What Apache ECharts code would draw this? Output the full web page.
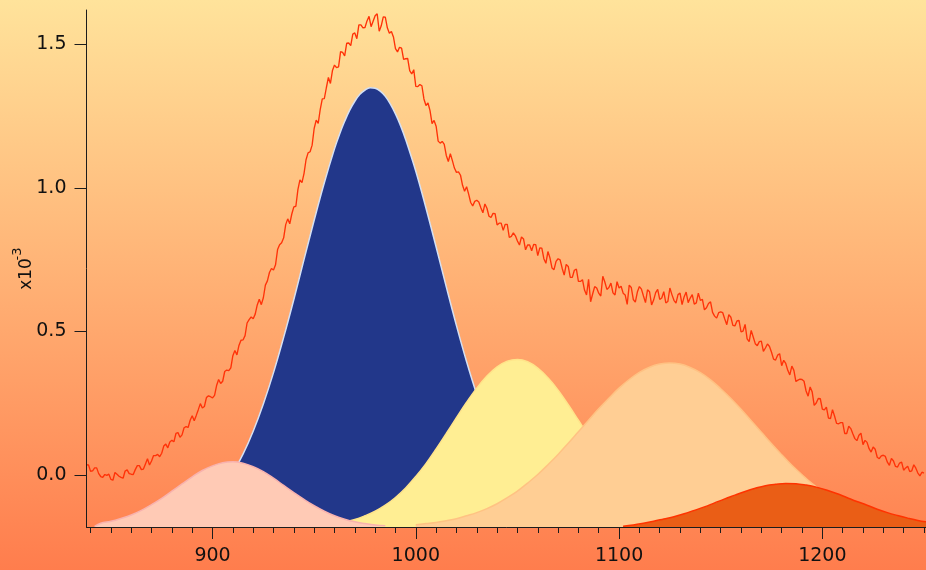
<!DOCTYPE html>
<html><head><meta charset="utf-8">
<script src="https://cdn.jsdelivr.net/npm/echarts@6/dist/echarts.min.js"></script>
<style>
html,body{margin:0;padding:0;width:926px;height:570px;overflow:hidden;}
#c{width:926px;height:570px;background:linear-gradient(to bottom,#FFE39B 0%,#FFB074 50%,#FF7D4D 100%);}
</style>
</head><body><div id="c"></div>
<script>
// ---- axis ticks ----
const xMajorTicks = [900, 1000, 1100, 1200];
const xMinorTicks = [840,850,860,870,880,890,910,920,930,940,950,960,970,980,990,1010,1020,1030,1040,1050,1060,1070,1080,1090,1110,1120,1130,1140,1150,1160,1170,1180,1190,1210,1220,1230,1240,1250];
const yTicks = [0.0, 0.5, 1.0, 1.5];

// ---- fitted component bands ----
const pinkX = [842,845,850,855,860,865,870,875,880,885,890,895,900,905,910,915,920,925,930,935,940,945,950,955,960,965,970,975,980,985];
const pinkY = [-0.180,-0.169,-0.162,-0.152,-0.140,-0.124,-0.104,-0.082,-0.057,-0.032,-0.007,0.015,0.031,0.042,0.045,0.040,0.028,0.011,-0.012,-0.037,-0.062,-0.086,-0.108,-0.127,-0.143,-0.155,-0.164,-0.170,-0.175,-0.178];

const blueX = [880,885,890,895,900,905,910,915,920,925,930,935,940,945,950,955,960,962.5,965,967.5,970,972.5,975,977.5,980,982.5,985,987.5,990,992.5,995,1000,1005,1010,1015,1020,1025,1030,1035,1040,1045,1050,1055,1060,1065,1070,1075];
const blueY = [-0.162,-0.151,-0.136,-0.114,-0.084,-0.044,0.007,0.072,0.152,0.247,0.356,0.479,0.611,0.750,0.887,1.018,1.136,1.187,1.232,1.271,1.302,1.326,1.341,1.349,1.347,1.337,1.319,1.292,1.258,1.217,1.169,1.058,0.930,0.794,0.655,0.520,0.394,0.280,0.180,0.096,0.026,-0.029,-0.072,-0.105,-0.129,-0.147,-0.159];

const yellowX = [955,960,965,970,975,980,985,990,995,1000,1005,1010,1015,1020,1025,1030,1035,1040,1045,1050,1055,1060,1065,1070,1075,1080,1085,1090,1095,1100,1105,1110,1115,1120,1125,1130,1135];
const yellowY = [-0.175,-0.170,-0.164,-0.156,-0.143,-0.127,-0.106,-0.079,-0.046,-0.006,0.039,0.090,0.144,0.199,0.253,0.302,0.344,0.376,0.396,0.402,0.394,0.372,0.338,0.295,0.244,0.190,0.135,0.081,0.031,-0.013,-0.051,-0.084,-0.110,-0.130,-0.146,-0.157,-0.165];

const peachX = [1000,1005,1010,1015,1020,1025,1030,1035,1040,1045,1050,1055,1060,1065,1070,1075,1080,1085,1090,1095,1100,1105,1110,1115,1120,1125,1130,1135,1140,1145,1150,1155,1160,1165,1170,1175,1180,1185,1190,1195,1200,1205,1210,1215,1220,1225,1230,1235,1240,1245,1250];
const peachY = [-0.174,-0.170,-0.166,-0.160,-0.153,-0.143,-0.132,-0.118,-0.101,-0.080,-0.057,-0.029,0.001,0.035,0.071,0.110,0.150,0.190,0.230,0.267,0.302,0.332,0.357,0.375,0.386,0.390,0.386,0.374,0.356,0.331,0.300,0.266,0.228,0.188,0.148,0.108,0.070,0.033,0.000,-0.031,-0.058,-0.081,-0.101,-0.118,-0.133,-0.144,-0.153,-0.160,-0.166,-0.170,-0.174];

const darkX = [1102,1107,1112,1117,1122,1127,1132,1137,1142,1147,1152,1157,1162,1167,1172,1177,1182,1187,1192,1197,1202,1207,1212,1217,1222,1227,1232,1237,1242,1247,1252];
const darkY = [-0.179,-0.175,-0.169,-0.162,-0.154,-0.146,-0.136,-0.124,-0.112,-0.098,-0.084,-0.071,-0.058,-0.047,-0.038,-0.033,-0.030,-0.031,-0.036,-0.043,-0.053,-0.065,-0.079,-0.093,-0.106,-0.120,-0.132,-0.142,-0.151,-0.159,-0.165];

// ---- measured spectrum (even wavenumbers) ----
const specX = [838,840,842,844,846,848,850,852,854,856,858,860,862,864,866,868,870,872,874,876,878,880,882,884,886,888,890,892,894,896,898,
900,902,904,906,908,910,912,914,916,918,920,922,924,926,928,930,932,934,936,938,940,942,944,946,948,950,952,954,956,958,960,962,964,966,968,970,972,974,976,978,980,982,984,986,988,990,992,994,996,998,
1000,1002,1004,1006,1008,1010,1012,1014,1016,1018,1020,1022,1024,1026,1028,1030,1032,1034,1036,1038,1040,1042,1044,1046,1048,1050,1052,1054,1056,1058,1060,1062,1064,1066,1068,1070,1072,1074,1076,1078,1080,1082,1084,1086,1088,1090,1092,1094,1096,1098,
1100,1102,1104,1106,1108,1110,1112,1114,1116,1118,1120,1122,1124,1126,1128,1130,1132,1134,1136,1138,1140,1142,1144,1146,1148,1150,1152,1154,1156,1158,1160,1162,1164,1166,1168,1170,1172,1174,1176,1178,1180,1182,1184,1186,1188,1190,1192,1194,1196,1198,
1200,1202,1204,1206,1208,1210,1212,1214,1216,1218,1220,1222,1224,1226,1228,1230,1232,1234,1236,1238,1240,1242,1244,1246,1248,1250];
const specY = [0.035,0.012,0.024,0.004,-0.009,-0.002,-0.016,0.008,-0.005,-0.012,0.017,0.002,0.018,0.032,0.020,0.056,0.048,0.067,0.063,0.100,0.094,0.120,0.144,0.131,0.164,0.165,0.206,0.207,0.248,0.238,0.275,
0.268,0.311,0.318,0.360,0.363,0.415,0.418,0.469,0.485,0.541,0.544,0.592,0.593,0.661,0.705,0.714,0.785,0.809,0.872,0.875,0.934,0.994,1.018,1.098,1.126,1.207,1.225,1.310,1.349,1.364,1.428,1.422,1.472,1.504,1.496,1.540,1.568,1.558,1.582,1.562,1.600,1.546,1.596,1.558,1.545,1.485,1.490,1.448,1.451,1.397,
1.354,1.360,1.310,1.296,1.224,1.215,1.156,1.152,1.092,1.095,1.054,1.044,0.988,0.978,0.937,0.957,0.931,0.944,0.901,0.911,0.871,0.877,0.873,0.827,0.843,0.815,0.829,0.784,0.801,0.803,0.764,0.790,0.737,0.756,0.715,0.753,0.720,0.733,0.688,0.713,0.674,0.680,0.627,0.603,0.656,0.633,0.692,0.646,0.668,0.627,
0.651,0.633,0.594,0.653,0.602,0.656,0.623,0.645,0.592,0.635,0.611,0.638,0.604,0.628,0.598,0.633,0.620,0.600,0.628,0.599,0.608,0.575,0.597,0.566,0.546,0.568,0.543,0.558,0.521,0.536,0.498,0.524,0.464,0.480,0.450,0.466,0.442,0.447,0.403,0.417,0.380,0.388,0.348,0.364,0.330,0.332,0.292,0.306,0.242,0.266,
0.229,0.236,0.196,0.205,0.178,0.182,0.144,0.161,0.126,0.138,0.105,0.113,0.079,0.089,0.056,0.068,0.044,0.057,0.029,0.041,0.016,0.030,0.014,0.023,-0.004,0.006];

// ---- measured spectrum (odd wavenumbers) ----
const specMidX = [839,841,843,845,847,849,851,853,855,857,859,861,863,865,867,869,871,873,875,877,879,881,883,885,887,889,891,893,895,897,899,
901,903,905,907,909,911,913,915,917,919,921,923,925,927,929,931,933,935,937,939,941,943,945,947,949,951,953,955,957,959,961,963,965,967,969,971,973,975,977,979,981,983,985,987,989,991,993,995,997,999,
1001,1003,1005,1007,1009,1011,1013,1015,1017,1019,1021,1023,1025,1027,1029,1031,1033,1035,1037,1039,1041,1043,1045,1047,1049,1051,1053,1055,1057,1059,1061,1063,1065,1067,1069,1071,1073,1075,1077,1079,1081,1083,1085,1087,1089,1091,1093,1095,1097,1099,
1101,1103,1105,1107,1109,1111,1113,1115,1117,1119,1121,1123,1125,1127,1129,1131,1133,1135,1137,1139,1141,1143,1145,1147,1149,1151,1153,1155,1157,1159,1161,1163,1165,1167,1169,1171,1173,1175,1177,1179,1181,1183,1185,1187,1189,1191,1193,1195,1197,1199,
1201,1203,1205,1207,1209,1211,1213,1215,1217,1219,1221,1223,1225,1227,1229,1231,1233,1235,1237,1239,1241,1243,1245,1247,1249];
const specMidY = [0.034,0.014,0.024,-0.006,0.001,0.002,-0.019,0.002,-0.009,0.013,0.004,0.001,0.032,0.018,0.038,0.034,0.067,0.071,0.075,0.107,0.114,0.115,0.147,0.139,0.168,0.190,0.188,0.227,0.233,0.269,0.272,
0.277,0.332,0.326,0.365,0.373,0.433,0.451,0.470,0.529,0.550,0.560,0.612,0.617,0.676,0.719,0.732,0.802,0.826,0.892,0.909,0.936,1.028,1.050,1.122,1.149,1.236,1.274,1.311,1.385,1.409,1.419,1.475,1.460,1.505,1.536,1.520,1.568,1.559,1.598,1.581,1.607,1.565,1.595,1.539,1.526,1.474,1.487,1.450,1.409,1.412,
1.353,1.356,1.287,1.269,1.235,1.163,1.162,1.113,1.119,1.069,1.056,1.009,1.004,0.949,0.953,0.951,0.913,0.929,0.897,0.910,0.877,0.852,0.873,0.831,0.833,0.801,0.822,0.801,0.781,0.802,0.791,0.753,0.778,0.721,0.744,0.749,0.696,0.726,0.688,0.717,0.674,0.644,0.681,0.630,0.651,0.623,0.672,0.653,0.634,0.673,
0.657,0.627,0.661,0.611,0.637,0.647,0.600,0.638,0.609,0.646,0.616,0.599,0.651,0.608,0.628,0.593,0.637,0.616,0.595,0.633,0.611,0.582,0.603,0.553,0.565,0.565,0.523,0.549,0.519,0.538,0.501,0.474,0.503,0.457,0.464,0.430,0.456,0.427,0.400,0.422,0.399,0.364,0.379,0.325,0.333,0.326,0.274,0.289,0.250,0.265,
0.226,0.198,0.227,0.179,0.182,0.144,0.169,0.143,0.119,0.145,0.120,0.091,0.097,0.061,0.066,0.064,0.033,0.048,0.027,0.044,0.024,0.011,0.035,0.006,0.009];

function pairs(xs, ys) {
  const n = Math.min(xs.length, ys.length);
  const out = [];
  for (let i = 0; i < n; i++) out.push([xs[i], ys[i]]);
  return out;
}
const spectrum = pairs(specX, specY).concat(pairs(specMidX, specMidY)).sort((a, b) => a[0] - b[0]);

const tickFont = 'DejaVu Sans';
const axisColor = '#1c1c1c';

function band(xs, ys, fill, edge, w, z) {
  return {
    type: 'line', xAxisIndex: 0, yAxisIndex: 0, z: z,
    data: pairs(xs, ys), smooth: 0.4, symbol: 'none', silent: true,
    lineStyle: { color: edge, width: w },
    areaStyle: { color: fill, opacity: 1, origin: 'start' }
  };
}

const chart = echarts.init(document.getElementById('c'), null, { renderer: 'canvas' });
chart.setOption({
  backgroundColor: 'transparent',
  animation: false,
  grid: { left: 86.5, right: 0, top: 10, bottom: 43, containLabel: false },
  xAxis: [{
    type: 'value', min: 838, max: 1251, position: 'bottom', z: 20,
    axisLine: { show: true, onZero: false, lineStyle: { color: axisColor, width: 1 } },
    axisTick: { show: true, length: 12, customValues: xMajorTicks, lineStyle: { color: axisColor } },
    axisLabel: { show: true, customValues: xMajorTicks, margin: 20, fontFamily: tickFont, fontSize: 19, color: '#111',
      formatter: v => String(v) },
    splitLine: { show: false }
  }, {
    type: 'value', min: 838, max: 1251, position: 'bottom', z: 20,
    axisLine: { show: false, onZero: false },
    axisTick: { show: true, length: 6, customValues: xMinorTicks, lineStyle: { color: axisColor } },
    axisLabel: { show: false },
    splitLine: { show: false }
  }],
  yAxis: {
    type: 'value', min: -0.182, max: 1.62, z: 20,
    axisLine: { show: true, onZero: false, lineStyle: { color: axisColor, width: 1 } },
    axisTick: { show: true, length: 12, customValues: yTicks, lineStyle: { color: axisColor } },
    axisLabel: { show: true, customValues: yTicks, margin: 20, fontFamily: tickFont, fontSize: 19, color: '#111',
      formatter: v => Number(v).toFixed(1) },
    splitLine: { show: false }
  },
  series: [
    band(blueX, blueY, '#22378A', '#D4E0F4', 1.5, 2),
    band(yellowX, yellowY, '#FFEE93', '#FFE48A', 1.5, 3),
    band(peachX, peachY, '#FFCE94', '#FFC283', 1.5, 4),
    band(darkX, darkY, '#EA5E16', '#FF3300', 1.5, 5),
    band(pinkX, pinkY, '#FFCAB5', '#F8B2AE', 1.5, 6),
    {
      type: 'line', xAxisIndex: 0, yAxisIndex: 0, z: 7, data: spectrum,
      symbol: 'none', silent: true, smooth: false,
      lineStyle: { color: '#FF3208', width: 1.35 }
    }
  ],
  graphic: [
    { type: 'text', x: 27, y: 274, rotation: Math.PI / 2, silent: true,
      style: { text: 'x10', font: '17px "DejaVu Sans"', fill: '#111', align: 'center', verticalAlign: 'middle', textAlign: 'center', textVerticalAlign: 'middle' } },
    { type: 'text', x: 18, y: 254, rotation: Math.PI / 2, silent: true,
      style: { text: '-3', font: '13px "DejaVu Sans"', fill: '#111', align: 'center', verticalAlign: 'middle', textAlign: 'center', textVerticalAlign: 'middle' } },
    { type: 'text', x: 315, y: 405, silent: true,
      style: { text: '[4]', font: 'bold 32px "Liberation Serif"', fill: '#FF2A00', align: 'left', verticalAlign: 'middle', textAlign: 'left', textVerticalAlign: 'middle' } },
    { type: 'text', x: 353, y: 415, silent: true,
      style: { text: 'Fe', font: 'bold 43px "Liberation Serif"', fill: '#FF2A00', align: 'left', verticalAlign: 'middle', textAlign: 'left', textVerticalAlign: 'middle' } },
    { type: 'text', x: 398, y: 404, silent: true,
      style: { text: '3+', font: 'bold 32px "Liberation Serif"', fill: '#FF2A00', align: 'left', verticalAlign: 'middle', textAlign: 'left', textVerticalAlign: 'middle' } }
  ]
});
</script>
</body></html>
